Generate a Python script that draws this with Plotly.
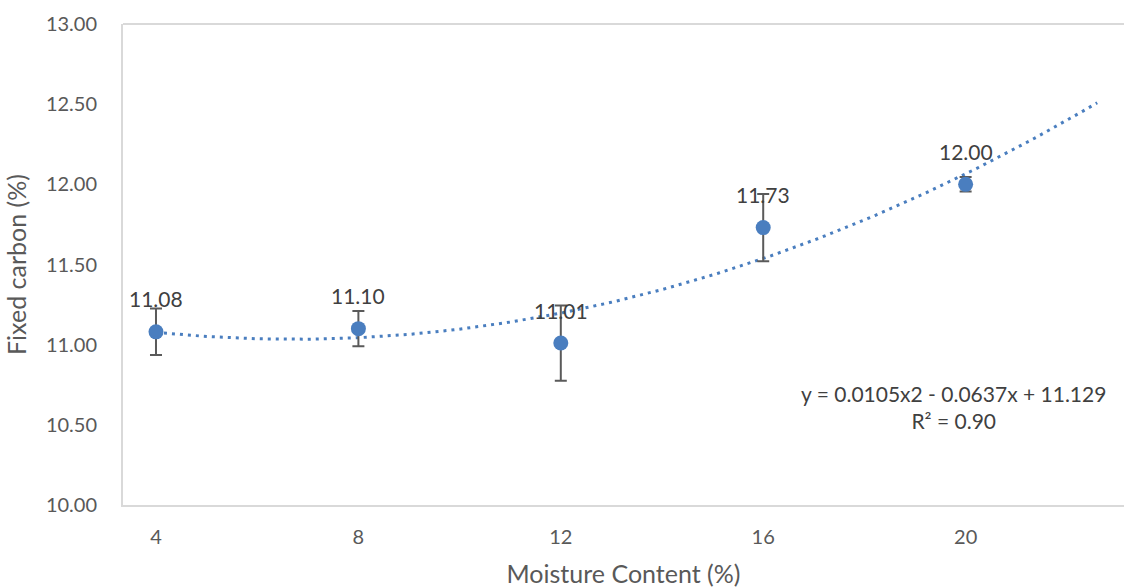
import numpy as np
import plotly.graph_objects as go

moisture = [4, 8, 12, 16, 20]
fixed_carbon = [11.08, 11.10, 11.01, 11.73, 12.00]
err = [0.145, 0.11, 0.235, 0.21, 0.045]
x_ticks = [4, 8, 12, 16, 20]
y_ticks = [10.0, 10.5, 11.0, 11.5, 12.0, 12.5, 13.0]
trend_end = 22.6

blue = "#4A7EBF"
font_family = "Lato, 'Open Sans', sans-serif"

coef = np.polyfit(moisture, fixed_carbon, 2)
tx = np.linspace(moisture[0], trend_end, 200)
ty = np.polyval(coef, tx)

fig = go.Figure()
fig.add_trace(go.Scatter(
    x=tx, y=ty, mode="lines",
    line=dict(color=blue, width=3, dash="3px,5px"),
    hoverinfo="skip", showlegend=False))
fig.add_trace(go.Scatter(
    x=moisture, y=fixed_carbon, mode="markers",
    marker=dict(color=blue, size=15),
    error_y=dict(type="data", array=err, visible=True, color="#5A5A5A", thickness=2, width=6),
    showlegend=False))

for xv, yv in zip(moisture, fixed_carbon):
    fig.add_annotation(x=xv, y=yv, text=f"{yv:.2f}", showarrow=False,
                       yshift=33, font=dict(size=21, color="#404040", family=font_family))

fig.add_annotation(xref="paper", yref="paper", x=0.830, y=0.203,
                   xanchor="center", yanchor="middle",
                   text="y = 0.0105x2 - 0.0637x + 11.129<br>R² = 0.90",
                   showarrow=False, align="center",
                   font=dict(size=21, color="#404040", family=font_family))

# top frame line of the plot area
fig.add_shape(type="line", xref="paper", yref="paper", x0=0, x1=1.01, y0=1, y1=1,
              line=dict(color="#D9D9D9", width=2))

fig.update_layout(
    width=1124, height=588,
    margin=dict(l=123, r=0, t=24, b=83),
    paper_bgcolor="white", plot_bgcolor="white",
    font=dict(family=font_family, color="#595959", size=20),
    xaxis=dict(range=[3.348, 23.13], tickvals=x_ticks, ticktext=[str(v) for v in x_ticks],
               showgrid=False, zeroline=False, showline=True, linecolor="#D9D9D9",
               linewidth=2, mirror=False, ticks="", ticklabelstandoff=13, automargin=False,
               title=dict(text="Moisture Content (%)", standoff=23,
                          font=dict(size=25, color="#595959"))),
    yaxis=dict(range=[10, 13], tickvals=y_ticks, ticktext=[f"{v:.2f}" for v in y_ticks],
               showgrid=False, zeroline=False, showline=True, linecolor="#D9D9D9",
               linewidth=2, mirror=False, ticks="", ticklabelstandoff=20, automargin=False,
               title=dict(text="Fixed carbon (%)", standoff=12,
                          font=dict(size=25, color="#595959"))),
)

fig.write_html("out.html", config={"displayModeBar": False},
               post_script="document.body.style.margin='0';document.body.style.overflow='hidden';")
